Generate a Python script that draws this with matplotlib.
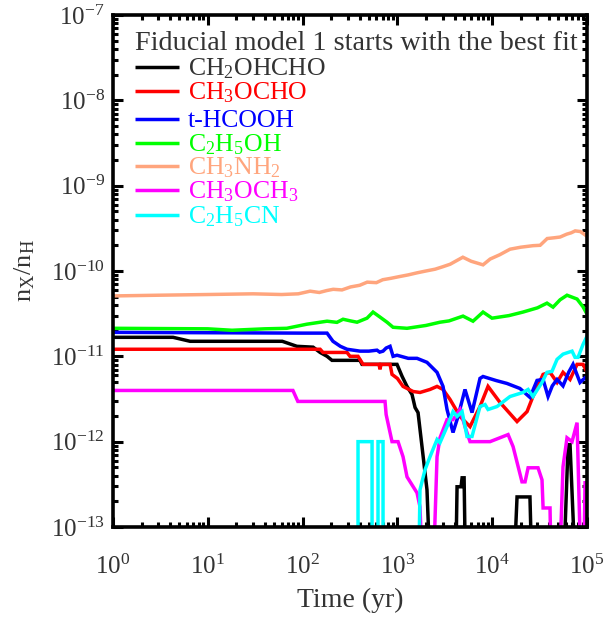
import numpy as np
import matplotlib
matplotlib.use("Agg")
import matplotlib.pyplot as plt
from matplotlib.ticker import LogLocator, LogFormatterMathtext, NullFormatter, FixedLocator

plt.rcParams['font.family'] = ['Liberation Serif', 'DejaVu Serif']
plt.rcParams['mathtext.fontset'] = 'custom'
plt.rcParams['mathtext.rm'] = 'Liberation Serif'
plt.rcParams['mathtext.it'] = 'Liberation Serif:italic'
plt.rcParams['mathtext.bf'] = 'Liberation Serif:bold'

BOTTOM = 1e-14  # values below plot floor (off-scale)

# ---------------- data ----------------
t_ch2ohcho = [1, 4.3, 6.5, 61, 87, 129, 153, 181, 204, 403, 423, 990, 1120, 1262, 1426, 1535, 1650,
              1817, 2050, 2300, 4053, 4256, 4690, 4810, 5050, 5300, 16200, 18270, 25000, 26900,
              54500, 63100, 66200, 78500, 90000, 96000, 1e5]
n_ch2ohcho = [1.67e-11, 1.67e-11, 1.5e-11, 1.5e-11, 1.31e-11, 1.28e-11, 1.11e-11, 1.0e-11, 8.97e-12,
              8.97e-12, 8.05e-12, 8.05e-12, 5.82e-12, 4.44e-12, 3.57e-12, 2.51e-12, 2.19e-12,
              8.74e-13, 2.73e-13, BOTTOM, BOTTOM, 2.96e-13, 2.96e-13, 3.77e-13, 3.77e-13, BOTTOM,
              BOTTOM, 2.25e-13, 2.25e-13, BOTTOM, BOTTOM, 9.22e-13, 9.22e-13, BOTTOM, BOTTOM,
              2.0e-13, BOTTOM]

t_ch3ocho = [1, 153, 164, 294, 316, 384, 434, 609, 640, 655, 670, 688, 836, 877, 1000, 1146, 1462,
             1730, 2207, 2617, 3027, 3590, 4576, 5830, 7430, 9030, 12080, 18270, 23300, 26900,
             34400, 40700, 48300, 55800, 66200, 78500, 90800, 1e5]
n_ch3ocho = [1.21e-11, 1.21e-11, 1.11e-11, 1.11e-11, 1.0e-11, 1.0e-11, 8.05e-12, 8.05e-12, 8.05e-12,
             7.03e-12, 8.05e-12, 8.05e-12, 8.05e-12, 6.14e-12, 5.5e-12, 4.44e-12, 3.87e-12,
             3.77e-12, 4.09e-12, 4.44e-12, 4.09e-12, 3.12e-12, 1.97e-12, 1.5e-12, 2.58e-12,
             4.44e-12, 2.88e-12, 1.72e-12, 2.25e-12, 3.38e-12, 6.14e-12, 6.49e-12, 4.94e-12,
             6.49e-12, 5.36e-12, 8.05e-12, 8.05e-12, 6.49e-12]

t_hcooh = [1, 10, 100, 181, 209, 250, 294, 403, 500, 609, 650, 705, 760, 836, 900, 990, 1300, 1610,
           2050, 2617, 3027, 3337, 3858, 4358, 5160, 6120, 7430, 8000, 11000, 14300, 19600, 25000,
           29700, 34400, 38800, 43000, 48300, 55800, 64000, 71200, 84300, 95300, 1e5]
n_hcooh = [1.91e-11, 1.89e-11, 1.87e-11, 1.87e-11, 1.5e-11, 1.31e-11, 1.21e-11, 1.15e-11, 1.15e-11,
           1.18e-11, 1.12e-11, 1.15e-11, 1.25e-11, 1.31e-11, 1.0e-11, 1.03e-11, 9.47e-12, 9.47e-12,
           8.5e-12, 6.49e-12, 4.44e-12, 2.38e-12, 1.28e-12, 1.97e-12, 4.09e-12, 2.19e-12, 5.51e-12,
           5.8e-12, 5.2e-12, 4.81e-12, 4.2e-12, 3.3e-12, 5.22e-12, 5.36e-12, 3.38e-12, 4.5e-12,
           5.36e-12, 4.5e-12, 6.5e-12, 8.05e-12, 4.94e-12, 5.6e-12, 5.36e-12]

t_c2h5oh = [1, 10, 18, 40, 68, 111, 181, 230, 267, 320, 375, 478, 553, 650, 777, 899, 1262, 2000,
            2812, 3500, 4920, 6270, 8000, 9950, 15000, 21100, 30000, 37800, 43800, 52000, 61500,
            78500, 90800, 1e5]
n_c2h5oh = [2.13e-11, 2.1e-11, 2.02e-11, 2.1e-11, 2.13e-11, 2.38e-11, 2.58e-11, 2.5e-11, 2.72e-11,
            2.6e-11, 2.51e-11, 2.8e-11, 3.3e-11, 2.9e-11, 2.51e-11, 2.19e-11, 2.13e-11, 2.3e-11,
            2.51e-11, 2.6e-11, 2.96e-11, 2.58e-11, 3.3e-11, 2.8e-11, 3.0e-11, 3.3e-11, 3.7e-11,
            4.2e-11, 3.77e-11, 4.6e-11, 5.2e-11, 4.69e-11, 3.8e-11, 3.12e-11]

t_ch3nh2 = [1, 3, 10, 30, 60, 90, 120, 150, 180, 210, 260, 320, 400, 480, 600, 700, 850, 1050, 1300,
            1600, 2000, 2500, 3000, 3600, 4200, 4900, 6000, 8000, 9500, 12000, 15400, 20000, 27000,
            32000, 38000, 45000, 52000, 61000, 68000, 75000, 85000, 1e5]
n_ch3nh2 = [5.1e-11, 5.2e-11, 5.3e-11, 5.4e-11, 5.3e-11, 5.4e-11, 5.8e-11, 5.6e-11, 5.9e-11, 6.1e-11,
            6.0e-11, 6.5e-11, 6.8e-11, 7.4e-11, 7.3e-11, 7.9e-11, 8.2e-11, 8.6e-11, 9.0e-11, 9.5e-11,
            1.0e-10, 1.05e-10, 1.12e-10, 1.2e-10, 1.32e-10, 1.45e-10, 1.3e-10, 1.18e-10, 1.38e-10,
            1.55e-10, 1.8e-10, 1.9e-10, 1.98e-10, 2.0e-10, 2.4e-10, 2.45e-10, 2.5e-10, 2.7e-10,
            2.8e-10, 2.95e-10, 2.9e-10, 2.55e-10]

t_ch3och3 = [1, 79, 89, 740, 760, 877, 1015, 1146, 1262, 1610, 1730, 1900, 2317, 2617, 2812, 3337,
             3858, 4576, 5160, 5830, 9480, 14700, 16600, 20600, 22200, 23900, 30400, 33500, 34400,
             40700, 42700, 49400, 55800, 61500, 69500, 78500, 88500, 90800, 95300, 1e5]
n_ch3och3 = [3.98e-12, 3.98e-12, 2.96e-12, 2.96e-12, 2.08e-12, 1.0e-12, 1.0e-12, 6.66e-13, 3.87e-13,
             2.51e-13, 1.72e-13, BOTTOM, BOTTOM, 6.66e-13, 1.11e-12, 1.81e-12, 1.81e-12, 2.38e-12,
             1.5e-12, 1.0e-12, 1.0e-12, 1.21e-12, 8.74e-13, 3.38e-13, 3.38e-13, 4.94e-13, 4.94e-13,
             3.57e-13, 1.67e-13, 1.67e-13, BOTTOM, BOTTOM, 5.07e-13, 1.11e-12, 1.0e-12, 1.67e-12,
             BOTTOM, BOTTOM, 3.3e-13, 3.3e-13]

t_c2h5cn = [1, 384, 384, 540, 540, 624, 624, 705, 705, 1650, 1730, 1955, 2207, 2617, 2812, 3337,
            3858, 4256, 4810, 5420, 6120, 7430, 8400, 9030, 11240, 15400, 21100, 23900, 26900,
            33500, 37800, 42700, 48300, 55800, 69500, 74700, 80400, 90800, 1e5]
n_c2h5cn = [BOTTOM, BOTTOM, 1e-12, 1e-12, BOTTOM, BOTTOM, 1e-12, 1e-12, BOTTOM, BOTTOM, 2.73e-13,
            4.69e-13, 6.66e-13, 1.06e-12, 9.73e-13, 1.5e-12, 2.25e-12, 1.97e-12, 2.25e-12, 1.15e-12,
            1.15e-12, 2.58e-12, 2.72e-12, 2.38e-12, 2.58e-12, 3.38e-12, 3.77e-12, 4.09e-12,
            3.38e-12, 4.94e-12, 6.49e-12, 6.66e-12, 9.22e-12, 1.06e-11, 1.15e-11, 9.73e-12,
            9.73e-12, 1.38e-11, 1.72e-11]

species = [r'CH$_2$OHCHO', r'CH$_3$OCHO', r't-HCOOH', r'C$_2$H$_5$OH',
           r'CH$_3$NH$_2$', r'CH$_3$OCH$_3$', r'C$_2$H$_5$CN']
times = [t_ch2ohcho, t_ch3ocho, t_hcooh, t_c2h5oh, t_ch3nh2, t_ch3och3, t_c2h5cn]
values = [n_ch2ohcho, n_ch3ocho, n_hcooh, n_c2h5oh, n_ch3nh2, n_ch3och3, n_c2h5cn]
colors = ['#000000', '#FF0000', '#0000FF', '#00FF00', '#FFA57D', '#FF00FF', '#00FFFF']
legend_title = 'Fiducial model 1 starts with the best fit'
xticks = [1e0, 1e1, 1e2, 1e3, 1e4, 1e5]
yticks = [1e-13, 1e-12, 1e-11, 1e-10, 1e-9, 1e-8, 1e-7]

# ---------------- figure ----------------
fig = plt.figure(figsize=(6.07, 6.17), dpi=100)
ax = fig.add_axes([0.1862, 0.1459, 0.7809, 0.8298])

for t, n, c in zip(times, values, colors):
    ax.plot(t, n, color=c, lw=2.5, solid_joinstyle='miter')

ax.set_xscale('log')
ax.set_yscale('log')
ax.set_xlim(1, 1e5)
ax.set_ylim(1e-13, 1e-7)

for s in ax.spines.values():
    s.set_linewidth(2.6)

ax.xaxis.set_major_locator(FixedLocator(xticks))
ax.yaxis.set_major_locator(FixedLocator(yticks))
ax.xaxis.set_minor_locator(LogLocator(base=10, subs=np.arange(2, 10), numticks=20))
ax.yaxis.set_minor_locator(LogLocator(base=10, subs=np.arange(2, 10), numticks=20))
ax.xaxis.set_minor_formatter(NullFormatter())
ax.yaxis.set_minor_formatter(NullFormatter())
ax.xaxis.set_major_formatter(LogFormatterMathtext())
ax.yaxis.set_major_formatter(LogFormatterMathtext())
ax.tick_params(which='both', direction='in', top=True, right=True, width=2.2, colors='black',
               labelcolor='#333333')
ax.tick_params(which='major', length=7.5, labelsize=18)
ax.tick_params(which='minor', length=3.8)
ax.tick_params(axis='x', which='major', pad=20)
ax.tick_params(axis='y', which='major', pad=6)

ax.set_xlabel('Time (yr)', fontsize=20, color='#333333', labelpad=6)
ax.set_ylabel(r'n$_\mathrm{X}$/n$_\mathrm{H}$', fontsize=19, color='#333333', labelpad=10)

# ---------------- legend ----------------
ax.text(0.046, 0.9316, legend_title, transform=ax.transAxes, fontsize=20.3,
        color='#333333', va='baseline', ha='left')
row_y = [67, 91, 119, 143, 166, 190, 215]
for lab, c, yp in zip(species, colors, row_y):
    yf = (527 - yp) / 512.0
    ax.plot([0.046, 0.139], [yf, yf], transform=ax.transAxes, color=c, lw=2.5,
            solid_capstyle='butt')
    tc = '#333333' if c == '#000000' else c
    ax.text(0.158, (527 - yp - 8) / 512.0, lab, transform=ax.transAxes, fontsize=18.5,
            color=tc, va='baseline', ha='left')

fig.savefig('out.png', dpi=100)
